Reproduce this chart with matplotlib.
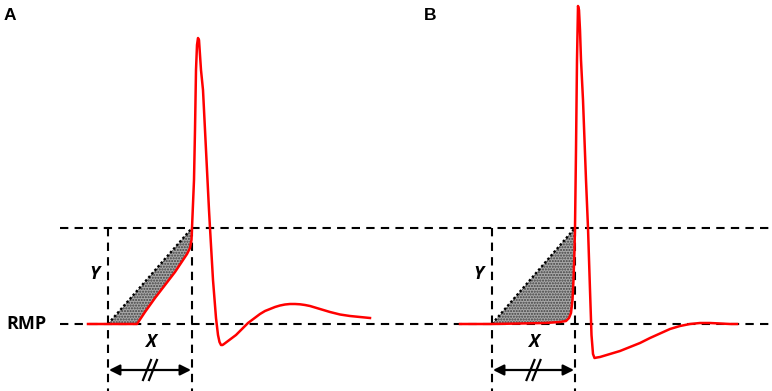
import matplotlib
matplotlib.use("Agg")
import matplotlib.pyplot as plt

# ---- data (time-like x, voltage-like y in figure-space units) ----
rmp_level = 324
thr_level = 228

# Panel A action potential
a_x = [88, 137, 145, 155, 165, 175, 183, 187, 190, 191.5, 192, 194, 195, 196, 197, 198,
       199, 200, 201, 202, 203, 204, 205, 207, 209, 210, 213, 216, 218, 219.5, 221, 222.5,
       224, 228, 232, 236, 240, 244, 248, 252, 256, 260, 265, 270, 275, 280, 285, 290,
       295, 300, 305, 310, 315, 320, 330, 340, 350, 360, 370]
a_y = [324, 324, 312, 298, 285, 272, 260, 254, 248, 240, 228, 180, 130, 70, 45, 38,
       40, 55, 70, 80, 90, 110, 130, 170, 210, 228, 280, 318, 335, 342, 345, 345,
       344, 341, 338, 335, 331, 327, 323, 320, 317, 314, 311, 309, 307, 305.5, 304.5, 304,
       304, 304.3, 305, 306, 307.5, 309, 312, 314.5, 316, 317, 318]
a_start, a_end = 108, 192
a_shade_x = [137, 145, 155, 165, 175, 183, 187, 190, 191.5, 192]
a_shade_y = [324, 312, 298, 285, 272, 260, 254, 248, 240, 228]

# Panel B action potential
b_x = [460, 492, 520, 545, 560, 566, 569, 571, 572.5, 573.5, 574.5, 575, 576, 577, 578,
       579, 580, 581, 583, 586, 588, 590, 591.5, 593, 594.5, 597, 600, 605, 610, 620, 630,
       640, 650, 660, 670, 680, 690, 700, 710, 720, 730, 737]
b_y = [324, 324, 323.5, 323, 322, 321, 318, 313, 300, 280, 250, 228, 150, 60, 6,
       10, 30, 60, 100, 180, 228, 290, 335, 354, 358, 357.5, 357, 355.5, 354, 351, 347,
       343, 338, 333.5, 329, 326, 324, 323, 323, 323.5, 324, 324]
b_start, b_end = 492, 575
b_shade_x = [492, 520, 545, 560, 566, 569, 571, 572.5, 573.5, 574.5, 575]
b_shade_y = [324, 323.5, 323, 322, 321, 318, 313, 300, 280, 250, 228]

panel_labels = ["A", "B"]

# ---- figure ----
fig = plt.figure(figsize=(7.72, 3.91), dpi=100)
ax = fig.add_axes([0, 0, 1, 1])
ax.set_xlim(0, 772)
ax.set_ylim(391, 0)
ax.axis("off")

FONT = ["Open Sans", "DejaVu Sans"]
FONT_AB = ["Liberation Sans", "DejaVu Sans"]
dash = (0, (4, 3))

for lvl in (thr_level, rmp_level):
    ax.plot([60, 772], [lvl, lvl], color="black", lw=1.5, ls=dash, zorder=1)

def panel(x, y, sx, sy, start, end):
    for vx in (start, end):
        ax.plot([vx, vx], [thr_level, 391], color="black", lw=1.5, ls=dash, zorder=1)
    poly_x = [start] + list(sx) + [start]
    poly_y = [rmp_level] + list(sy) + [rmp_level]
    ax.fill(poly_x, poly_y, facecolor="#a8a8a8", edgecolor="none", zorder=2)
    ax.fill(poly_x, poly_y, facecolor="none", edgecolor="#404040", hatch="......",
            lw=0, zorder=2)
    ax.plot([start, end], [rmp_level, thr_level], color="black", lw=1.7,
            ls=(0, (1, 1)), zorder=3)
    ax.plot(x, y, color="#ff0000", lw=1.8, zorder=4, solid_joinstyle="round")
    ax.annotate("", xy=(start + 1, 370), xytext=(end - 1, 370),
                arrowprops=dict(arrowstyle="<|-|>", color="black", lw=1.6,
                                mutation_scale=16, shrinkA=0, shrinkB=0), zorder=5)
    mid = (start + end) / 2
    for off in (-3, 3):
        ax.plot([mid + off - 4, mid + off + 4], [380, 360], color="black", lw=1.6, zorder=6)
    ax.text(start - 14, 274, "Y", fontsize=13, fontweight="bold", fontstyle="italic",
            ha="center", va="center", family=FONT)
    ax.text(mid, 342, "X", fontsize=13, fontweight="bold", fontstyle="italic",
            ha="center", va="center", family=FONT)

panel(a_x, a_y, a_shade_x, a_shade_y, a_start, a_end)
panel(b_x, b_y, b_shade_x, b_shade_y, b_start, b_end)

ax.text(4, 15, panel_labels[0], fontsize=12.5, fontweight="bold", ha="left", va="center", family=FONT_AB)
ax.text(424, 15, panel_labels[1], fontsize=12.5, fontweight="bold", ha="left", va="center", family=FONT_AB)
ax.text(26, 324, "RMP", fontsize=13, fontweight="bold", ha="center", va="center", family=FONT)

fig.savefig("out.png", dpi=100)
